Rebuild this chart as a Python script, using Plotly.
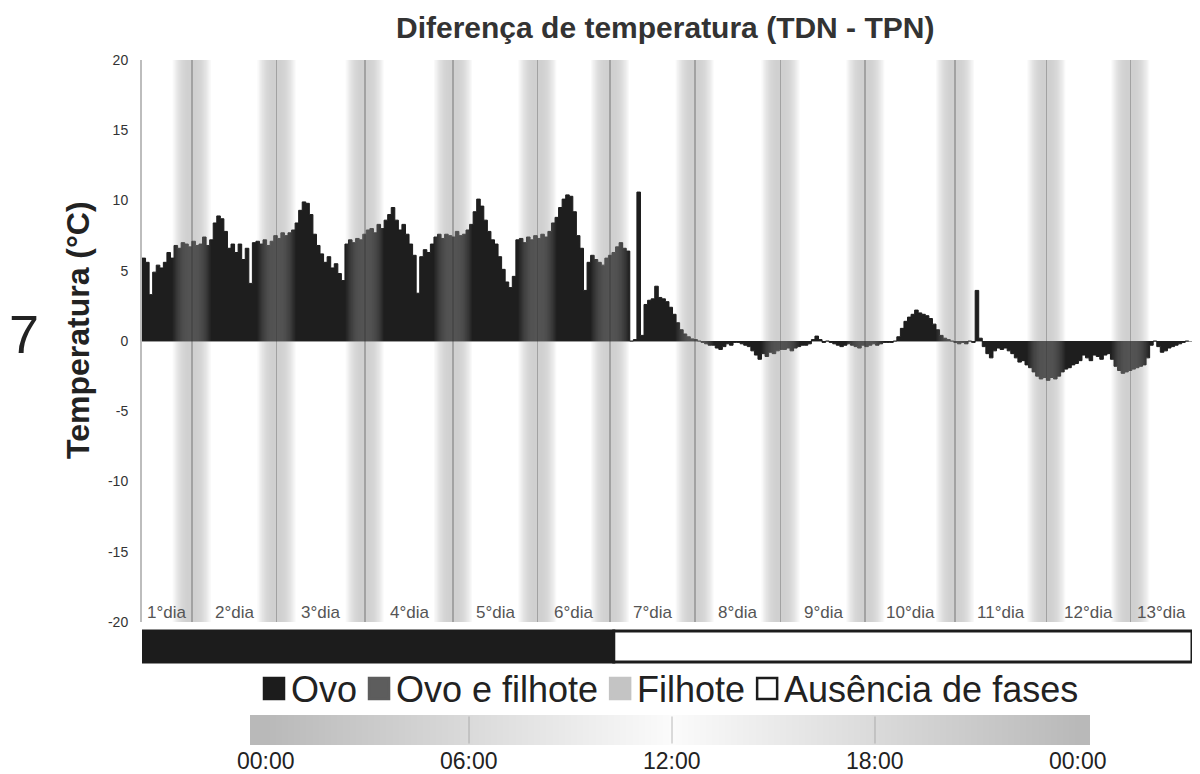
import math
import plotly.graph_objects as go

W, H = 1200, 774
FONT = "Liberation Sans, Arial, Helvetica, sans-serif"

# Hourly difference TDN - TPN (°C), hour 0 = start of the record
diff_c = [
    5.9, 5.6, 3.3, 4.9, 5.4, 5.2, 5.6, 6.3, 5.9, 6.8,
    6.6, 7.0, 6.9, 6.7, 7.1, 6.8, 6.9, 7.4, 6.8, 7.2,
    8.4, 8.9, 8.7, 7.8, 6.6, 6.9, 6.3, 6.9, 5.8, 6.6,
    4.1, 7.0, 7.1, 6.9, 7.2, 6.8, 7.1, 7.5, 7.3, 7.7,
    7.5, 7.7, 7.9, 8.4, 9.3, 9.9, 9.8, 9.0, 7.6, 6.8,
    6.2, 5.6, 6.0, 5.2, 5.5, 4.8, 4.3, 6.9, 7.2, 7.0,
    7.3, 7.2, 7.6, 7.9, 8.0, 7.7, 8.3, 8.0, 8.6, 9.0,
    9.5, 8.6, 7.9, 8.3, 7.6, 6.9, 6.1, 3.4, 6.0, 6.5,
    6.3, 6.9, 7.4, 7.6, 7.3, 7.6, 7.5, 7.4, 7.8, 7.5,
    7.6, 7.9, 8.3, 9.2, 10.1, 9.6, 8.6, 7.8, 7.2, 6.9,
    6.0, 5.1, 4.2, 3.8, 4.6, 7.2, 7.3, 7.0, 7.4, 7.2,
    7.5, 7.3, 7.6, 7.4, 7.8, 8.4, 8.8, 9.5, 10.1, 10.4,
    10.3, 9.2, 7.5, 6.6, 3.6, 5.6, 6.1, 5.8, 5.6, 5.4,
    5.9, 6.1, 6.3, 6.7, 7.0, 6.6, 6.4, 0.0, 0.1, 10.6,
    0.4, 2.6, 2.9, 3.0, 3.9, 3.1, 3.0, 2.8, 2.4, 1.9,
    1.3, 0.8, 0.5, 0.3, 0.15, 0.1, 0.0, -0.1, -0.2, -0.3,
    -0.3, -0.5, -0.6, -0.4, -0.2, -0.3, -0.1, -0.1, -0.2, -0.3,
    -0.4, -0.7, -1.0, -1.3, -0.9, -1.1, -0.8, -0.9, -0.7, -0.6,
    -0.6, -0.5, -0.7, -0.5, -0.4, -0.3, -0.3, -0.2, 0.1, 0.35,
    0.1, -0.1, 0.0, -0.1, -0.2, -0.3, -0.4, -0.3, -0.2, -0.3,
    -0.4, -0.5, -0.3, -0.4, -0.3, -0.2, -0.3, -0.2, -0.1, -0.1,
    -0.1, 0.0, 0.3, 0.9, 1.4, 1.7, 1.9, 2.2, 2.0, 1.9,
    1.8, 1.6, 1.2, 0.8, 0.4, 0.2, 0.1, 0.0, -0.1, -0.2,
    -0.1, -0.2, 0.0, -0.1, 3.6, 0.2, -0.4, -0.9, -1.2, -0.7,
    -0.5, -0.6, -0.5, -0.7, -0.9, -1.2, -1.5, -1.4, -1.7, -1.9,
    -2.2, -2.5, -2.7, -2.6, -2.8, -2.6, -2.7, -2.5, -2.2, -2.0,
    -1.9, -1.7, -1.6, -1.4, -1.0, -1.2, -1.4, -1.0, -1.1, -1.3,
    -1.0, -0.9, -1.3, -1.8, -2.1, -2.3, -2.2, -2.1, -2.0, -1.9,
    -1.8, -1.7, -1.2, -0.3, 0.0, -0.4, -0.8, -0.7, -0.5, -0.4,
    -0.3, -0.2, -0.1, 0.0, 0.0,
]
hours = list(range(len(diff_c)))

# Midnights (record hour) and end of the record
midnight_h = [14.0, 37.8, 62.6, 87.4, 111.1, 131.5, 155.3, 179.4, 203.2, 228.4, 254.1, 277.7]
record_end_h = 294.9
day_labels = [f"{i}°dia" for i in range(1, 14)]

# Breeding phases along the record
phase_names = ["Ovo", "Ausência de fases"]
phase_start_h = [0.0, 132.5]
phase_end_h = [132.5, record_end_h]
phase_fill = {"Ovo": "#1c1c1c", "Ovo e filhote": "#5d5d5d", "Filhote": "#c4c4c4", "Ausência de fases": "white"}

legend_labels = ["Ovo", "Ovo e filhote", "Filhote", "Ausência de fases"]

# Time-of-day key
clock_ticks = [0, 6, 12, 18, 24]
clock_labels = ["00:00", "06:00", "12:00", "18:00", "00:00"]
clock_x = [-1, 0, 6, 12, 18, 24, 25]
clock_shade = [0.0, 0.0, 0.5, 1.0, 0.5, 0.0, 0.0]


def fx(p):
    return p / W


def fy(p):
    return (H - p) / H


fig = go.Figure()

# Temperature difference as a filled step area
fig.add_trace(go.Scatter(
    x=hours, y=diff_c, mode="lines",
    line=dict(color="#1b1b1b", width=1, shape="hv"),
    fill="tozeroy", fillcolor="#1e1e1e",
    hoverinfo="skip", showlegend=False,
))

# Night shading around each midnight, drawn on an overlay so it tints the area
band_half_h = 5.5
grid = [i * 0.1 for i in range(int(record_end_h * 10) + 1)]
shade = []
for t in grid:
    d = min(abs(t - m) for m in midnight_h)
    if d <= 0.22:
        v = 1.0
    elif d < band_half_h:
        v = 0.9 * math.cos(math.pi / 2 * (d / band_half_h) ** 1.4)
    else:
        v = 0.0
    shade.append(v)
fig.add_trace(go.Heatmap(
    x=grid, y=[-20, 20], z=[shade, shade], xaxis="x3", yaxis="y3",
    zmin=0, zmax=1, showscale=False, hoverinfo="skip",
    colorscale=[[0, "rgba(150,150,150,0)"], [0.9, "rgba(150,150,150,0.45)"],
                [1, "rgba(100,100,100,0.6)"]],
))

# Clock gradient key
fig.add_trace(go.Heatmap(
    x=clock_x, y=[0, 1], z=[clock_shade, clock_shade], xaxis="x2", yaxis="y2",
    zmin=0, zmax=1, zsmooth="best", showscale=False, hoverinfo="skip",
    colorscale=[[0, "#b9b9b9"], [1, "#fbfbfb"]],
))

x_dom = [fx(142), fx(1192)]
y_dom = [fy(622), fy(60)]

fig.update_layout(
    width=W, height=H, margin=dict(l=0, r=0, t=0, b=0),
    template="none", paper_bgcolor="white", plot_bgcolor="white",
    font=dict(family=FONT, color="#222"), showlegend=False,
    xaxis=dict(domain=x_dom, range=[0, record_end_h], visible=False, anchor="y"),
    yaxis=dict(
        domain=y_dom, range=[-20, 20], anchor="x",
        tickvals=list(range(-20, 21, 5)),
        ticktext=[str(v) for v in range(-20, 21, 5)],
        tickfont=dict(size=14, color="#333"),
        ticks="outside", ticklen=9, tickcolor="rgba(0,0,0,0)",
        showgrid=False, showline=True, linecolor="#bdbdbd", linewidth=2,
        zeroline=True, zerolinecolor="#9a9a9a", zerolinewidth=1,
    ),
    xaxis3=dict(overlaying="x", anchor="y3", range=[0, record_end_h], visible=False),
    yaxis3=dict(overlaying="y", anchor="x3", range=[-20, 20], visible=False),
    xaxis2=dict(
        domain=[fx(250), fx(1090)], range=[-0.473, 24.355], anchor="y2",
        showticklabels=False, ticks="", showgrid=False, zeroline=False, showline=False,
    ),
    yaxis2=dict(domain=[fy(745), fy(715)], range=[0, 1], anchor="x2", visible=False),
)

shapes = []
annotations = []

# Phase bar under the plot
for name, a, b in zip(phase_names, phase_start_h, phase_end_h):
    shapes.append(dict(
        type="rect", xref="x", yref="paper", x0=a, x1=b, y0=fy(662), y1=fy(631),
        fillcolor=phase_fill[name], line=dict(color="#1c1c1c", width=3), layer="above",
    ))

# Day labels centred between midnights
bounds = [0.0] + midnight_h + [record_end_h]
for lab, a, b in zip(day_labels, bounds[:-1], bounds[1:]):
    annotations.append(dict(
        x=(a + b) / 2, y=-19.3, xref="x", yref="y", text=lab, showarrow=False,
        font=dict(size=17, color="#555"), xanchor="center", yanchor="middle",
    ))

# Legend row
legend_font = 36
legend_em = [1.834, 5.614, 3.0, 8.171]
x = 264
for lab, em in zip(legend_labels, legend_em):
    shapes.append(dict(
        type="rect", xref="paper", yref="paper", x0=fx(x), x1=fx(x + 20),
        y0=fy(699), y1=fy(678), fillcolor=phase_fill[lab],
        line=dict(color="#1c1c1c" if lab == "Ausência de fases" else phase_fill[lab], width=2.5),
    ))
    annotations.append(dict(
        x=fx(x + 25), y=fy(689), xref="paper", yref="paper", text=lab, showarrow=False,
        font=dict(size=legend_font, color="#222"), xanchor="left", yanchor="middle",
    ))
    x += 20 + 5 + em * legend_font + 14

# Tick marks inside the clock key and their labels
for t in clock_ticks[1:-1]:
    shapes.append(dict(
        type="line", xref="x2", yref="y2", x0=t, x1=t, y0=0.05, y1=0.95,
        line=dict(color="rgba(140,140,140,0.6)", width=1),
    ))
for t, lab in zip(clock_ticks, clock_labels):
    annotations.append(dict(
        x=t, y=fy(761), xref="x2", yref="paper", text=lab, showarrow=False,
        font=dict(size=23, color="#222"), xanchor="center", yanchor="middle",
    ))

annotations += [
    dict(x=fx(665), y=fy(28), xref="paper", yref="paper", showarrow=False,
         text="<b>Diferença de temperatura (TDN - TPN)</b>",
         font=dict(size=30, color="#333"), xanchor="center", yanchor="middle"),
    dict(x=fx(78), y=fy(330), xref="paper", yref="paper", showarrow=False,
         text="<b>Temperatura (°C)</b>", textangle=-90,
         font=dict(size=32, color="#222"), xanchor="center", yanchor="middle"),
    dict(x=fx(24), y=fy(334), xref="paper", yref="paper", showarrow=False,
         text="7", font=dict(size=54, color="#222"), xanchor="center", yanchor="middle"),
]

fig.update_layout(shapes=shapes, annotations=annotations)
fig.write_html("out.html")
